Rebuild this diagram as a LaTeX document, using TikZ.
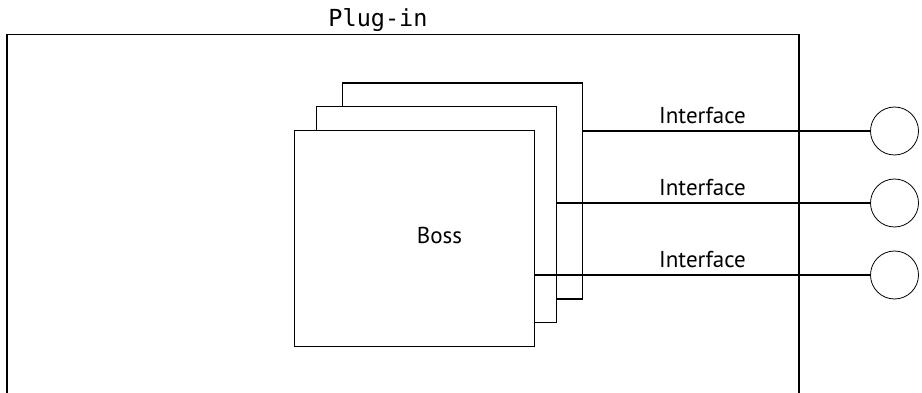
\documentclass[tikz,border=0pt]{standalone}
\usepackage{fontspec}
\setsansfont{PT Sans}
\setmonofont{DejaVu Sans Mono}
\begin{document}
\begin{tikzpicture}[x=1pt,y=-1pt,
  frame/.style={line width=1.3pt},
  bossbox/.style={draw,line width=1.3pt,fill=white,rectangle,inner sep=0pt,
                  minimum width=240pt,minimum height=216pt},
  port/.style={draw,circle,line width=0.8pt,inner sep=0pt,minimum size=48pt},
  wire/.style={line width=1.3pt},
  lbl/.style={font=\sffamily\fontsize{23}{27}\selectfont,inner sep=0pt},
  title/.style={font=\ttfamily\fontsize{23.5}{27}\selectfont,inner sep=0pt}]
\useasboundingbox (0,0) rectangle (922,393);

% plug-in frame, open at the bottom
\coordinate (fbl) at (7,393);
\coordinate (ftl) at (7,34.7);
\coordinate (ftr) at (799,34.7);
\coordinate (fbr) at (799,393);
\draw[frame] (fbl) -- (ftl) -- (ftr) -- (fbr);
\node[title,anchor=base] (plugin) at (378,27) {Plug-in};

% stacked boss instances, back to front
\node[bossbox] (b3) at (462.7,191) {};
\node[bossbox] (b2) at (436.2,214.8) {};
\node[bossbox] (b1) at (414.8,238.8) {};
\node[lbl] (boss) at (439.5,235) {Boss};

% external ports
\node[port] (c1) at (894.5,131) {};
\node[port] (c2) at (894.5,203) {};
\node[port] (c3) at (894.5,275) {};

% interface wires
\draw[wire] (c1.west -| b3.east) -- (c1.west);
\draw[wire] (c2.west -| b2.east) -- (c2.west);
\draw[wire] (c3.west -| b1.east) -- (c3.west);

\node[lbl] (i1) at (702.5,116) {Interface};
\node[lbl] (i2) at (702.5,188) {Interface};
\node[lbl] (i3) at (702.5,260) {Interface};
\end{tikzpicture}
\end{document}
